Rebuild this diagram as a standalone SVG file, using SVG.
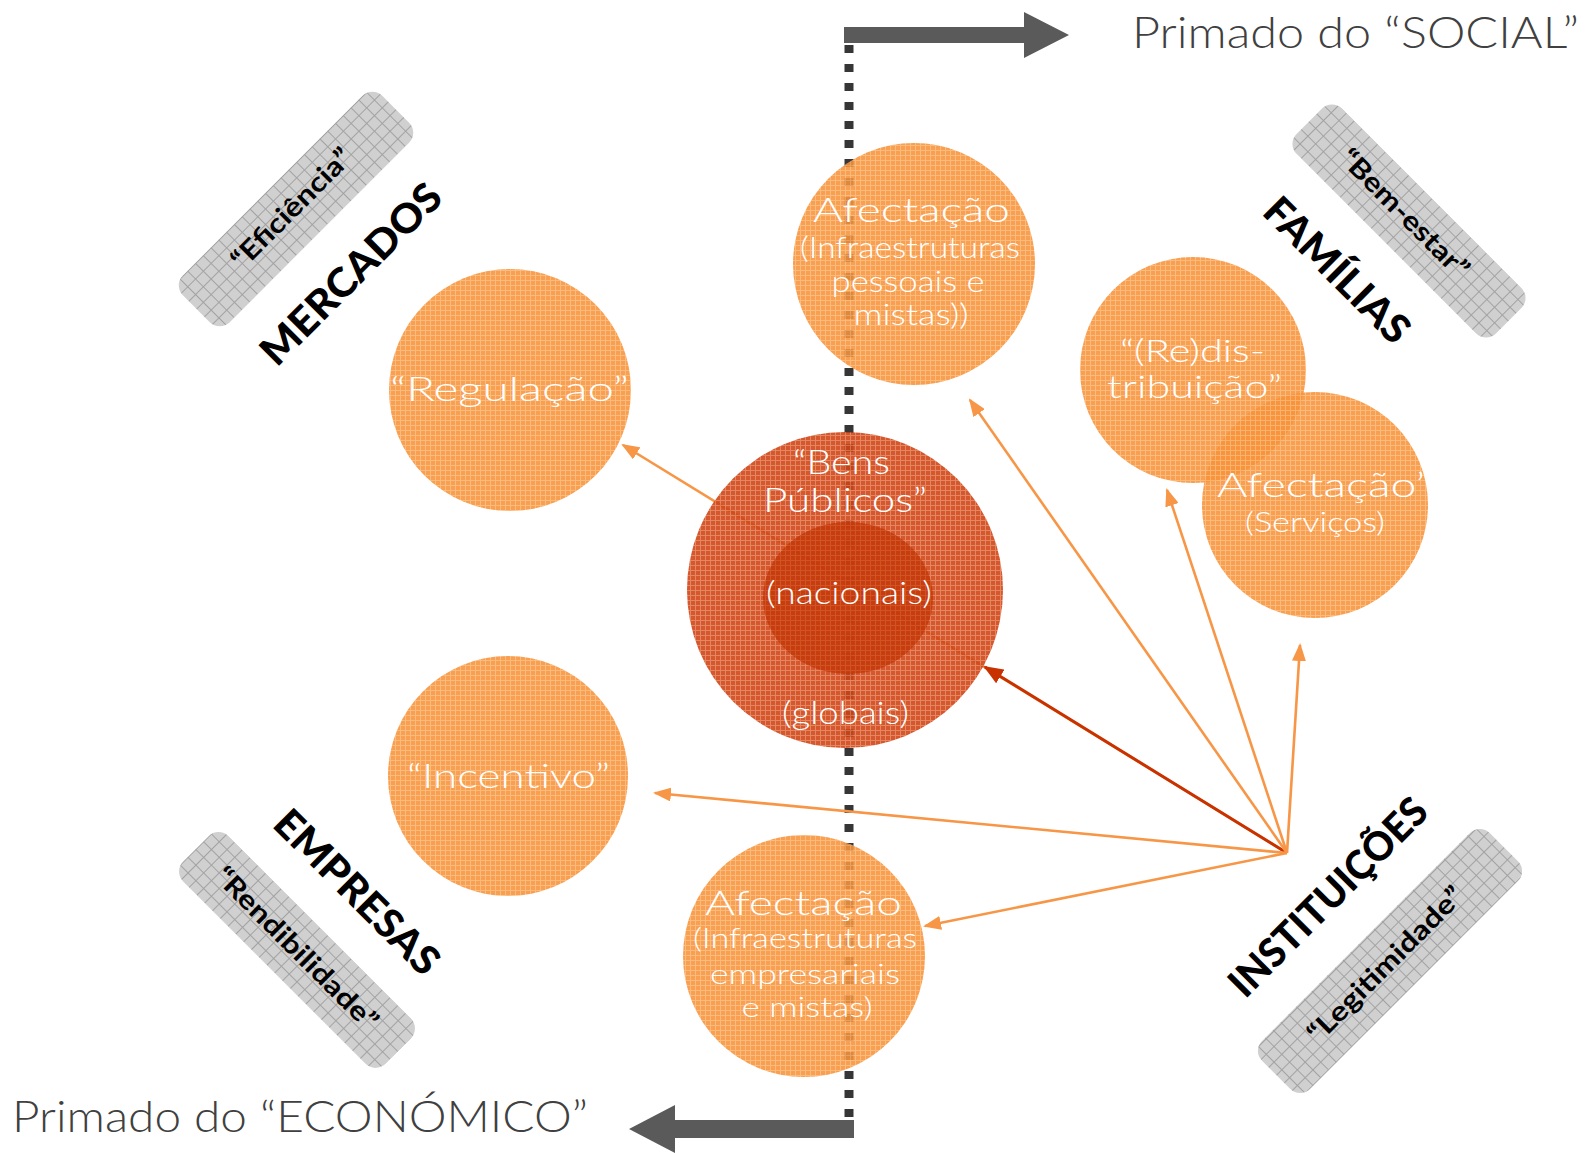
<svg xmlns="http://www.w3.org/2000/svg" width="1585" height="1153" viewBox="0 0 1585 1153">
<style>
.ct{font-family:Lato,"Open Sans","Liberation Sans",sans-serif;font-weight:300;fill:#ffffff;text-anchor:middle}
.bl{font-family:Lato,"Liberation Sans",sans-serif;font-weight:900;fill:#000000;text-anchor:middle;font-size:40px}
.bx{font-family:Lato,"Liberation Sans",sans-serif;font-weight:700;fill:#000000;text-anchor:middle;font-size:27px}
.tt{font-family:Lato,"Open Sans","Liberation Sans",sans-serif;font-weight:300;fill:#404040;font-size:44px}
.or{fill:url(#pOr);opacity:0.88}
.box{fill:url(#pGr)}
.cn{fill:none;stroke:#F79646;stroke-width:2.6}
.cr{fill:none;stroke:#C83200;stroke-width:3}
</style>
<defs>
<pattern id="pOr" width="5" height="5" patternUnits="userSpaceOnUse">
<rect width="5" height="5" fill="#F7923A"/>
<path d="M0 0.5H5M0.5 0V5" stroke="#FAB26A" stroke-width="1"/>
</pattern>
<pattern id="pRd" width="5" height="5" patternUnits="userSpaceOnUse">
<rect width="5" height="5" fill="#CF4416"/>
<path d="M0 0.5H5M0.5 0V5" stroke="#E0784F" stroke-width="1"/>
</pattern>
<pattern id="pRi" width="5" height="5" patternUnits="userSpaceOnUse">
<rect width="5" height="5" fill="#C4380A"/>
<path d="M0 0.5H5M0.5 0V5" stroke="#CF4A1C" stroke-width="1"/>
</pattern>
<pattern id="pGr" width="11" height="11" patternUnits="userSpaceOnUse">
<rect width="11" height="11" fill="#D0D0D0"/>
<path d="M0 0.5H11M0.5 0V11" stroke="#A2A2A2" stroke-width="1"/>
</pattern>
<marker id="aO" markerUnits="userSpaceOnUse" markerWidth="18" markerHeight="14" viewBox="0 0 18 14" refX="16" refY="7" orient="auto">
<path d="M0,0 L18,7 L0,14 z" fill="#F79646"/>
</marker>
<marker id="aR" markerUnits="userSpaceOnUse" markerWidth="20" markerHeight="16" viewBox="0 0 20 16" refX="18" refY="8" orient="auto">
<path d="M0,0 L20,8 L0,16 z" fill="#C83200"/>
</marker>
</defs>

<g id="axis">
<line x1="849" y1="45" x2="849" y2="1120" stroke="#363636" stroke-width="9" stroke-dasharray="8 11"/>
<path d="M844,27 H1024 V12 L1069,35 L1024,58 V43 H844 Z" fill="#5A5A5A"/>
<path d="M854,1120 H675 V1105 L629,1129 L675,1153 V1138 H854 Z" fill="#5A5A5A"/>
<text class="tt" x="1132" y="48" textLength="447" lengthAdjust="spacingAndGlyphs">Primado do “SOCIAL”</text>
<text class="tt" x="12" y="1132" textLength="576" lengthAdjust="spacingAndGlyphs">Primado do “ECONÓMICO”</text>
</g>

<g id="connectors">
<line class="cn" x1="1287" y1="853" x2="623" y2="445" marker-end="url(#aO)"/>
<line class="cr" x1="1287" y1="853" x2="985" y2="667" marker-end="url(#aR)"/>
<line class="cn" x1="1287" y1="853" x2="970" y2="400" marker-end="url(#aO)"/>
<line class="cn" x1="1287" y1="853" x2="1167" y2="490" marker-end="url(#aO)"/>
<line class="cn" x1="1287" y1="853" x2="1300" y2="645" marker-end="url(#aO)"/>
<line class="cn" x1="1287" y1="853" x2="655" y2="793" marker-end="url(#aO)"/>
<line class="cn" x1="1287" y1="853" x2="925" y2="926" marker-end="url(#aO)"/>
</g>

<g id="mercados">
<g transform="translate(296,209) rotate(-45)"><rect class="box" x="-141" y="-33" width="282" height="66" rx="14"/></g>
<g transform="translate(291,208) rotate(-45)"><text class="bx" x="0" y="10" textLength="158" lengthAdjust="spacingAndGlyphs">“Eficiência”</text></g>
<g transform="translate(351,274) rotate(-45)"><text class="bl" x="0" y="14" textLength="238" lengthAdjust="spacingAndGlyphs">MERCADOS</text></g>
</g>

<g id="familias">
<g transform="translate(1409,221) rotate(45)"><rect class="box" x="-141" y="-32" width="282" height="64" rx="14"/></g>
<g transform="translate(1405,213) rotate(45)"><text class="bx" x="0" y="10" textLength="170" lengthAdjust="spacingAndGlyphs">“Bem-estar”</text></g>
<g transform="translate(1337,270) rotate(45)"><text class="bl" x="0" y="14" textLength="188" lengthAdjust="spacingAndGlyphs">FAMÍLIAS</text></g>
</g>

<g id="empresas">
<g transform="translate(297,950) rotate(45)"><rect class="box" x="-143" y="-32" width="286" height="64" rx="14"/></g>
<g transform="translate(297,948) rotate(45)"><text class="bx" x="0" y="10" textLength="218" lengthAdjust="spacingAndGlyphs">“Rendibilidade”</text></g>
<g transform="translate(357,892) rotate(45)"><text class="bl" x="0" y="14" textLength="215" lengthAdjust="spacingAndGlyphs">EMPRESAS</text></g>
</g>

<g id="instituicoes">
<g transform="translate(1390,961) rotate(-45)"><rect class="box" x="-161" y="-34" width="322" height="68" rx="14"/></g>
<g transform="translate(1385,964) rotate(-45)"><text class="bx" x="0" y="10" textLength="208" lengthAdjust="spacingAndGlyphs">“Legitimidade”</text></g>
<g transform="translate(1328,897) rotate(-45)"><text class="bl" x="0" y="14" textLength="262" lengthAdjust="spacingAndGlyphs">INSTITUIÇÕES</text></g>
</g>

<g id="regulacao">
<circle class="or" cx="510" cy="390" r="121"/>
<text class="ct" x="509.5" y="401" font-size="34" textLength="239" lengthAdjust="spacingAndGlyphs">“Regulação”</text>
</g>

<g id="incentivo">
<circle class="or" cx="508" cy="776" r="120"/>
<text class="ct" x="508.5" y="788" font-size="34" textLength="203" lengthAdjust="spacingAndGlyphs">“Incentivo”</text>
</g>

<g id="afectacao-pessoais">
<circle class="or" cx="914" cy="264" r="121"/>
<text class="ct" x="911.5" y="222" font-size="33" textLength="197" lengthAdjust="spacingAndGlyphs">Afectação</text>
<text class="ct" x="910" y="258" font-size="29" textLength="220" lengthAdjust="spacingAndGlyphs">(Infraestruturas</text>
<text class="ct" x="908" y="292" font-size="29" textLength="153" lengthAdjust="spacingAndGlyphs">pessoais e</text>
<text class="ct" x="911" y="325" font-size="29" textLength="115" lengthAdjust="spacingAndGlyphs">mistas))</text>
</g>

<g id="afectacao-empresariais">
<circle class="or" cx="804" cy="956" r="121"/>
<text class="ct" x="803.5" y="915" font-size="33" textLength="197" lengthAdjust="spacingAndGlyphs">Afectação</text>
<text class="ct" x="805" y="948" font-size="28" textLength="224" lengthAdjust="spacingAndGlyphs">(Infraestruturas</text>
<text class="ct" x="805" y="984" font-size="28" textLength="190" lengthAdjust="spacingAndGlyphs">empresariais</text>
<text class="ct" x="807" y="1017" font-size="28" textLength="131" lengthAdjust="spacingAndGlyphs">e mistas)</text>
</g>

<g id="redistribuicao">
<circle class="or" cx="1193" cy="370" r="113"/>
</g>

<g id="afectacao-servicos">
<circle class="or" cx="1315" cy="505" r="113"/>
<text class="ct" x="1321" y="497" font-size="33" textLength="208" lengthAdjust="spacingAndGlyphs">Afectação’</text>
<text class="ct" x="1315" y="532" font-size="27" textLength="140" lengthAdjust="spacingAndGlyphs">(Serviços)</text>
</g>

<g id="redistribuicao-label">
<text class="ct" x="1192.5" y="362" font-size="31" textLength="145" lengthAdjust="spacingAndGlyphs">“(Re)dis-</text>
<text class="ct" x="1194.5" y="398" font-size="31" textLength="175" lengthAdjust="spacingAndGlyphs">tribuição”</text>
</g>

<g id="bens-publicos">
<circle cx="845" cy="590" r="158" fill="url(#pRd)" opacity="0.9"/>
<ellipse cx="848" cy="598" rx="85" ry="76" fill="url(#pRi)" opacity="0.85"/>
<text class="ct" x="841.5" y="474" font-size="34" textLength="97" lengthAdjust="spacingAndGlyphs">“Bens</text>
<text class="ct" x="845" y="512" font-size="34" textLength="164" lengthAdjust="spacingAndGlyphs">Públicos”</text>
<text class="ct" x="849" y="604" font-size="32" textLength="166" lengthAdjust="spacingAndGlyphs">(nacionais)</text>
<text class="ct" x="845.5" y="724" font-size="32" textLength="127" lengthAdjust="spacingAndGlyphs">(globais)</text>
</g>
</svg>
